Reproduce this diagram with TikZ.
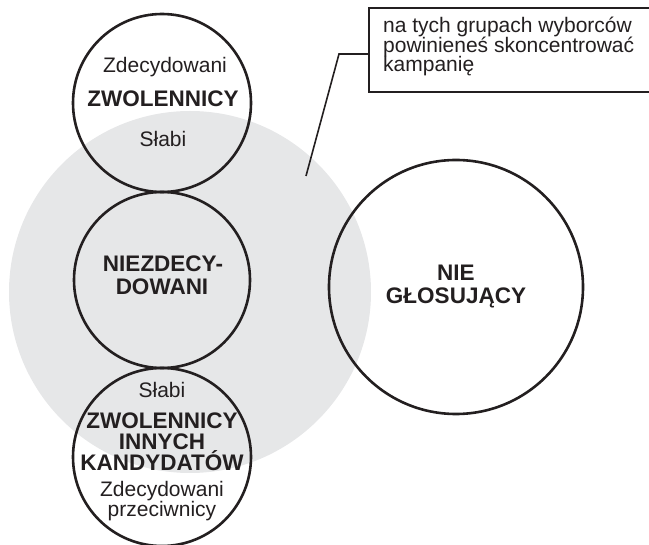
\documentclass[tikz,border=0pt]{standalone}
\usepackage{fontspec}
\setmainfont{Liberation Sans}
\definecolor{ink}{HTML}{231F20}
\definecolor{shade}{HTML}{E6E7E8}
\begin{document}
\begin{tikzpicture}[x=1pt,y=-1pt,
	ring/.style={draw=ink,line width=2.6pt,circle,inner sep=0pt,minimum size=#1},
	lbl/.style={text=ink,anchor=base,inner sep=0pt,font=\fontsize{21}{20}\selectfont},
	blbl/.style={text=ink,anchor=base,inner sep=0pt,font=\fontsize{22.5}{23}\selectfont\bfseries}]
	\useasboundingbox (0,0) rectangle (649,545);
	% target group
	\node[circle,fill=shade,inner sep=0pt,minimum size=362pt] (target) at (190,292) {};
	% circles
	\node[ring=178pt] (zwol) at (162,103) {};
	\node[ring=176pt] (niezd) at (162,280) {};
	\node[ring=178pt] (inni) at (162,457) {};
	\node[ring=254pt] (nieglos) at (456,287) {};
	% labels
	\node[lbl] (zwolA) at (165,73) {Zdecydowani};
	\node[blbl] (zwolB) at (163,107) {ZWOLENNICY};
	\node[lbl] (zwolC) at (163,147) {Słabi};
	\node[blbl] (niezdA) at (163,272) {NIEZDECY-};
	\node[blbl] (niezdB) at (162,295) {DOWANI};
	\node[lbl] (inniA) at (162,398) {Słabi};
	\node[blbl] (inniB) at (162,429) {ZWOLENNICY};
	\node[blbl] (inniC) at (162,450) {INNYCH};
	\node[blbl] (inniD) at (162,471) {KANDYDATÓW};
	\node[lbl] (inniE) at (162,497) {Zdecydowani};
	\node[lbl] (inniF) at (162,517) {przeciwnicy};
	\node[blbl] (nieglosA) at (456,281) {NIE};
	\node[blbl] (nieglosB) at (456,304) {GŁOSUJĄCY};
	% callout
	\draw[ink,line width=2.2pt] (652,8) -- (369,8) -- (369,92) -- (652,92);
	\node[lbl,anchor=base west] (uwagaA) at (383,33) {na tych grupach wyborców};
	\node[lbl,anchor=base west] (uwagaB) at (383,53) {powinieneś skoncentrować};
	\node[lbl,anchor=base west] (uwagaC) at (383,72) {kampanię};
	\coordinate (uwaga) at (369,54);
	\coordinate (kolano) at (339,54);
	\coordinate (koniec) at (306,176);
	\draw[ink,line width=1.6pt] (uwaga) -- (kolano) -- (koniec);
\end{tikzpicture}
\end{document}
